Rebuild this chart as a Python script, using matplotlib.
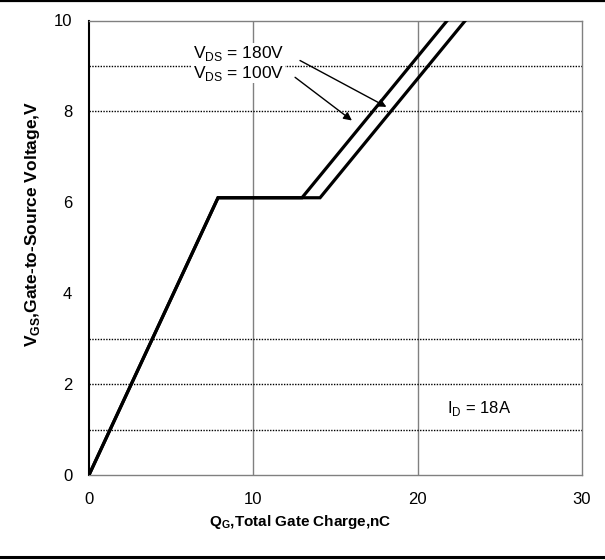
import matplotlib
matplotlib.use("Agg")
import matplotlib.pyplot as plt
from matplotlib.lines import Line2D

plt.rcParams['font.family'] = ['Liberation Sans', 'DejaVu Sans']
plt.rcParams['mathtext.fontset'] = 'custom'
plt.rcParams['mathtext.rm'] = 'Liberation Sans'
plt.rcParams['mathtext.bf'] = 'Liberation Sans:bold'

# Data: gate charge curves (Qg nC, Vgs V)
q_180 = [0.0, 7.85, 14.06, 22.9]
v_180 = [0.0, 6.1, 6.1, 10.0]
q_100 = [0.0, 7.85, 12.96, 21.8]
v_100 = [0.0, 6.1, 6.1, 10.0]

x_ticks = [0, 10, 20, 30]
y_ticks = [0, 2, 4, 6, 8, 10]
v_grid_x = [10, 20]
h_grid_y = [1, 2, 3, 8, 9]

label_180 = "V$_\\mathrm{DS}$ = 180V"
label_100 = "V$_\\mathrm{DS}$ = 100V"
id_label = "I$_\\mathrm{D}$ = 18A"

fig = plt.figure(figsize=(6.05, 5.6), dpi=100)
ax = fig.add_axes([89/605, 85/560, 493/605, 454.5/560])
ax.set_xlim(0, 30)
ax.set_ylim(0, 10)

for xv in v_grid_x:
    ax.axvline(xv, color='#808080', lw=1.0, zorder=1)
for yv in h_grid_y:
    ax.axhline(yv, color='black', lw=1.0, ls=(0, (1, 1)), zorder=1)

ax.plot(q_100, v_100, color='black', lw=2.3, zorder=3, solid_joinstyle='miter')
ax.plot(q_180, v_180, color='black', lw=2.3, zorder=3, solid_joinstyle='miter')

for s in ['top', 'right', 'bottom']:
    ax.spines[s].set_color('#808080')
    ax.spines[s].set_linewidth(1.0)
ax.spines['left'].set_color('black')
ax.spines['left'].set_linewidth(1.5)

ax.set_xticks(x_ticks)
ax.set_yticks(y_ticks)
ax.tick_params(axis='both', length=0, labelsize=12)
ax.tick_params(axis='x', pad=12)
ax.tick_params(axis='y', pad=12)

wb = dict(facecolor='white', edgecolor='none', pad=0.5)
ax.text(6.33, 9.27, label_180, fontsize=12.5, va='center', ha='left', bbox=wb, zorder=4)
ax.text(6.33, 8.84, label_100, fontsize=12.5, va='center', ha='left', bbox=wb, zorder=4)
ax.annotate('', xy=(18.1, 8.1), xytext=(12.84, 9.12),
            arrowprops=dict(arrowstyle='-|>', color='black', lw=1.0,
                            mutation_scale=12, shrinkA=0, shrinkB=0))
ax.annotate('', xy=(16.0, 7.8), xytext=(12.54, 8.75),
            arrowprops=dict(arrowstyle='-|>', color='black', lw=1.0,
                            mutation_scale=12, shrinkA=0, shrinkB=0))
ax.text(21.8, 1.47, id_label, fontsize=12, va='center', ha='left')

fig.text(300/605, 1 - 522/560, "Q$_\\mathbf{G}$,Total Gate Charge,nC",
         fontsize=11, fontweight='bold', ha='center', va='center')
fig.text(33/605, 1 - 224/560, "V$_\\mathbf{GS}$,Gate-to-Source Voltage,V",
         fontsize=12.5, fontweight='bold', ha='center', va='center', rotation=90)

fig.add_artist(Line2D([0, 1], [1 - 1/560, 1 - 1/560], color='black', lw=1.6,
                      transform=fig.transFigure))
fig.add_artist(Line2D([0, 1], [3.5/560, 3.5/560], color='black', lw=2.2,
                      transform=fig.transFigure))

fig.savefig('out.png', dpi=100)
